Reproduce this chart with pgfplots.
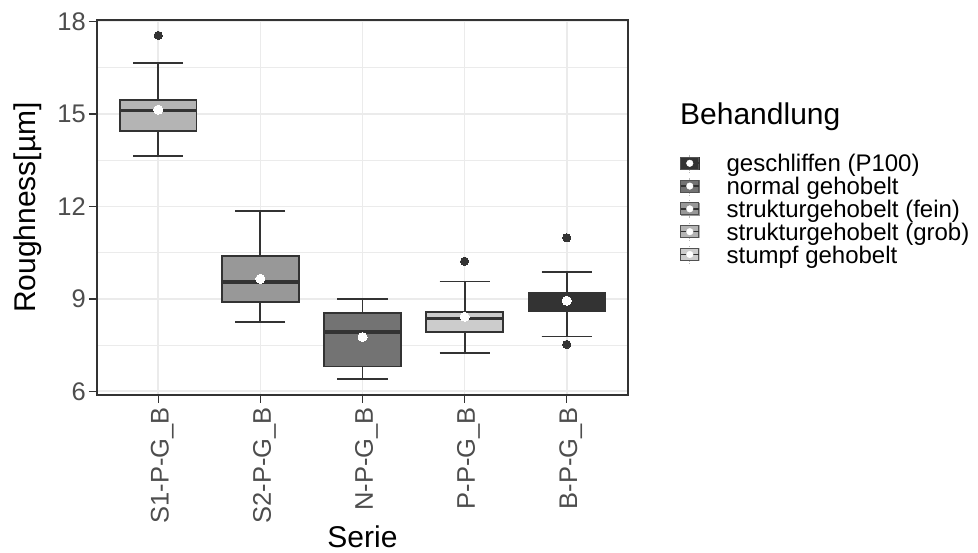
\documentclass[border=0pt]{standalone}
\usepackage{fontspec}
\setmainfont{Liberation Sans}
\usepackage{pgfplots}
\pgfplotsset{compat=1.18}
\usepgfplotslibrary{statistics}
\definecolor{g20}{HTML}{333333}
\definecolor{g30}{HTML}{4D4D4D}
\definecolor{g92}{HTML}{EBEBEB}
\definecolor{cgesch}{HTML}{333333}
\definecolor{cnorm}{HTML}{737373}
\definecolor{cfein}{HTML}{989898}
\definecolor{cgrob}{HTML}{B4B4B4}
\definecolor{cstumpf}{HTML}{CCCCCC}
\newcommand{\keyimg}[1]{%
  \addlegendimage{legend image code/.code={
    \draw[line width=0.7pt, color=gray!55, densely dotted] (9pt,-9.2pt) -- (9pt,9.2pt);
    \fill[#1] (0pt,-6pt) rectangle (18pt,6pt);
    \draw[g20!85, line width=0.8pt] (0pt,-6pt) rectangle (18pt,6pt);
    \draw[g20, line width=1.6pt] (0pt,0pt) -- (18pt,0pt);
    \fill[white] (9pt,0pt) circle (3.3pt);
  }}}
\begin{document}
\begin{tikzpicture}
\useasboundingbox (0,0) rectangle (978pt,553pt);
\begin{axis}[
  at={(97pt,158pt)}, anchor=south west,
  scale only axis, width=531pt, height=375pt,
  xmin=0.4, xmax=5.6, ymin=5.88, ymax=18.05,
  clip=false,
  xtick={1,2,3,4,5},
  xticklabels={S1-P-G\_B, S2-P-G\_B, N-P-G\_B, P-P-G\_B, B-P-G\_B},
  ytick={6,9,12,15,18},
  minor ytick={7.5,10.5,13.5,16.5},
  xmajorgrids, ymajorgrids, yminorgrids,
  major grid style={color=g92, line width=1.6pt},
  minor grid style={color=g92, line width=0.8pt},
  axis line style={draw=g20, line width=1.5pt},
  tick pos=left, tick align=outside,
  major tick length=8pt, minor tick length=0pt,
  major tick style={g20, line width=1.5pt},
  /pgf/number format/assume math mode=true,
  yticklabel style={font=\fontsize{25.5}{30}\selectfont, text=g30, inner sep=3pt},
  xticklabel style={font=\fontsize{25.5}{30}\selectfont, text=g30, xshift=4pt, rotate=90, anchor=east, inner sep=4pt},
  xlabel={Serie}, ylabel={Roughness[µm]},
  xlabel style={font=\fontsize{30}{36}\selectfont, at={(axis description cs:0.5,-0.3779)}, anchor=center},
  ylabel style={font=\fontsize{30}{36}\selectfont, at={(axis description cs:-0.1309,0.5)}, anchor=center},
  legend style={at={(axis description cs:1.0979,0.6483)}, anchor=north west,
    draw=none, fill=none, inner sep=0pt, outer sep=0pt, row sep=0pt, column sep=27pt,
    nodes={inner sep=0pt, outer sep=0pt, text height=20pt, text depth=2.8pt,
      font=\fontsize{24}{28}\selectfont}},
  legend cell align=left,
  boxplot/draw direction=y,
  boxplot/box extend=0.75,
  boxplot/whisker extend=0.49,
  boxplot/every median/.style={line width=3.8pt, draw=g20},
  boxplot/every whisker/.style={line width=1.8pt, draw=g20},
  boxplot/every box/.style={line width=1.7pt, draw=g20},
]
% S1-P-G_B
\addplot[forget plot, fill=cgrob, draw=g20, boxplot prepared={draw position=1,
  lower whisker=13.64, lower quartile=14.45, median=15.11, upper quartile=15.46, upper whisker=16.65}] coordinates {};
% S2-P-G_B
\addplot[forget plot, fill=cfein, draw=g20, boxplot prepared={draw position=2,
  lower whisker=8.24, lower quartile=8.90, median=9.55, upper quartile=10.38, upper whisker=11.85}] coordinates {};
% N-P-G_B
\addplot[forget plot, fill=cnorm, draw=g20, boxplot prepared={draw position=3,
  lower whisker=6.41, lower quartile=6.80, median=7.93, upper quartile=8.54, upper whisker=9.00}] coordinates {};
% P-P-G_B
\addplot[forget plot, fill=cstumpf, draw=g20, boxplot prepared={draw position=4,
  lower whisker=7.24, lower quartile=7.92, median=8.36, upper quartile=8.58, upper whisker=9.56}] coordinates {};
% B-P-G_B
\addplot[forget plot, fill=cgesch, draw=g20, boxplot prepared={draw position=5,
  lower whisker=7.78, lower quartile=8.60, median=8.95, upper quartile=9.21, upper whisker=9.87}] coordinates {};
% outliers
\addplot[forget plot, only marks, mark=*, mark size=4.1pt, color=g20, mark options={fill=g20, draw=g20, line width=0pt}]
  coordinates {(1,17.55) (4,10.22) (5,10.98) (5,7.52)};
% means
\addplot[forget plot, only marks, mark=*, mark size=4.5pt, color=white, mark options={fill=white, draw=white, line width=0pt}]
  coordinates {(1,15.14) (2,9.65) (3,7.76) (4,8.42) (5,8.94)};
% legend
\keyimg{cgesch}\addlegendentry{geschliffen (P100)}
\keyimg{cnorm}\addlegendentry{normal gehobelt}
\keyimg{cfein}\addlegendentry{strukturgehobelt (fein)}
\keyimg{cgrob}\addlegendentry{strukturgehobelt (grob)}
\keyimg{cstumpf}\addlegendentry{stumpf gehobelt}
\node[anchor=base west, inner sep=0pt, font=\fontsize{30}{36}\selectfont] at (axis description cs:1.0979,0.72) {Behandlung};
\end{axis}
\end{tikzpicture}
\end{document}
